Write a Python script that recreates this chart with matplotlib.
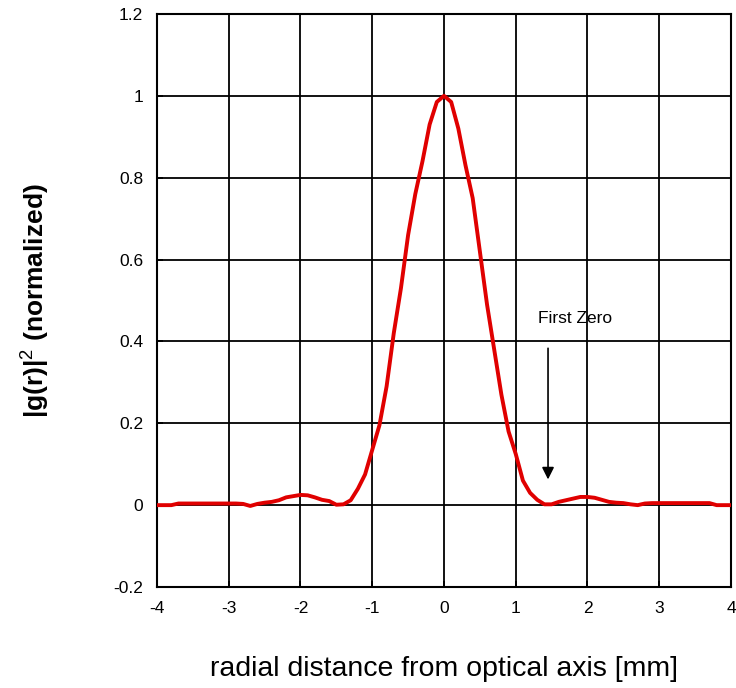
import numpy as np
import matplotlib
matplotlib.use('Agg')
import matplotlib.pyplot as plt

plt.rcParams['font.family'] = ['Liberation Sans', 'DejaVu Sans']
plt.rcParams['mathtext.fontset'] = 'custom'
plt.rcParams['mathtext.rm'] = 'Liberation Sans'
plt.rcParams['mathtext.it'] = 'Liberation Sans'
plt.rcParams['axes.unicode_minus'] = False

# radial distance [mm] and normalized intensity
r_mm = [-4.0, -3.9, -3.8, -3.7, -3.6, -3.5, -3.4, -3.3, -3.2, -3.1,
        -3.0, -2.9, -2.8, -2.7, -2.6, -2.5, -2.4, -2.3, -2.2, -2.1,
        -2.0, -1.9, -1.8, -1.7, -1.6, -1.5, -1.4, -1.3, -1.2, -1.1,
        -1.0, -0.9, -0.8, -0.7, -0.6, -0.5, -0.4, -0.3, -0.2, -0.1,
        0.0, 0.1, 0.2, 0.3, 0.4, 0.5, 0.6, 0.7, 0.8, 0.9,
        1.0, 1.1, 1.2, 1.3, 1.4, 1.5, 1.6, 1.7, 1.8, 1.9,
        2.0, 2.1, 2.2, 2.3, 2.4, 2.5, 2.6, 2.7, 2.8, 2.9,
        3.0, 3.1, 3.2, 3.3, 3.4, 3.5, 3.6, 3.7, 3.8, 3.9, 4.0]
intensity = [0.0, 0.0, 0.0, 0.004, 0.004, 0.004, 0.004, 0.004, 0.004, 0.004,
             0.004, 0.004, 0.003, -0.002, 0.003, 0.006, 0.008, 0.012, 0.019, 0.022,
             0.025, 0.024, 0.019, 0.013, 0.010, 0.001, 0.002, 0.012, 0.040, 0.075,
             0.135, 0.195, 0.29, 0.42, 0.53, 0.66, 0.76, 0.84, 0.93, 0.985,
             1.0, 0.985, 0.92, 0.83, 0.75, 0.62, 0.49, 0.38, 0.27, 0.18,
             0.125, 0.06, 0.03, 0.013, 0.002, 0.002, 0.008, 0.012, 0.016, 0.02,
             0.02, 0.018, 0.013, 0.008, 0.006, 0.005, 0.002, 0.0, 0.004, 0.005,
             0.005, 0.005, 0.005, 0.005, 0.005, 0.005, 0.005, 0.005, 0.0, 0.0, 0.0]

x_ticks = [-4, -3, -2, -1, 0, 1, 2, 3, 4]
y_ticks = [-0.2, 0, 0.2, 0.4, 0.6, 0.8, 1, 1.2]
y_tick_labels = ['-0.2', '0', '0.2', '0.4', '0.6', '0.8', '1', '1.2']

fig = plt.figure(figsize=(7.36, 6.88), dpi=100)
ax = fig.add_axes([0.2133, 0.1468, 0.7799, 0.8329])

ax.plot(r_mm, intensity, color='#e00000', linewidth=2.8, zorder=3)

ax.set_xlim(-4, 4)
ax.set_ylim(-0.2, 1.2)
ax.set_xticks(x_ticks)
ax.set_yticks(y_ticks)
ax.set_yticklabels(y_tick_labels)
ax.grid(True, color='black', linewidth=1.3)
ax.tick_params(direction='in', length=4, width=1.3, labelsize=12.5, pad=10)
for s in ax.spines.values():
    s.set_linewidth(1.5)

ax.set_xlabel('radial distance from optical axis [mm]', fontsize=20.5, labelpad=29)
ax.set_ylabel(r'|g(r)|$^{2}$ (normalized)', fontsize=19, fontweight='bold', labelpad=44)

ax.annotate('', xy=(1.45, 0.056), xytext=(1.45, 0.39),
            arrowprops=dict(arrowstyle='-|>', color='black', lw=1.2, mutation_scale=18))
ax.text(1.31, 0.457, 'First Zero', fontsize=12.5, ha='left', va='center')

fig.savefig('out.png', dpi=100)
